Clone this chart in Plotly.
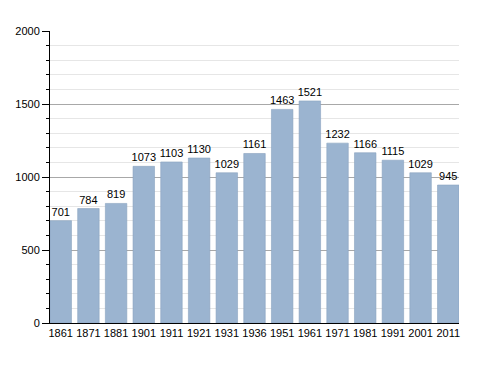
import plotly.graph_objects as go

years = ["1861", "1871", "1881", "1901", "1911", "1921", "1931", "1936",
         "1951", "1961", "1971", "1981", "1991", "2001", "2011"]
population = [701, 784, 819, 1073, 1103, 1130, 1029, 1161,
              1463, 1521, 1232, 1166, 1115, 1029, 945]

BARGAP = 0.224
half = (1 - BARGAP) / 2

fig = go.Figure(go.Bar(
    x=years, y=population,
    text=[str(v) for v in population],
    textposition="outside",
    textfont=dict(family="Liberation Sans, Arial, sans-serif", size=11, color="black"),
    constraintext="none",
    cliponaxis=False,
    marker=dict(color="#9bb4d0", line=dict(color="#8aa3bf", width=0.6)),
))

# page body has an 8px default margin, so offsets compensate for it
fig.update_layout(
    width=488, height=373,
    margin=dict(l=42, r=37, t=23, b=58, autoexpand=False),
    paper_bgcolor="white", plot_bgcolor="white",
    bargap=BARGAP,
    showlegend=False,
    uniformtext=dict(minsize=11, mode="show"),
    font=dict(family="Liberation Sans, Arial, sans-serif", size=11, color="black"),
)
fig.update_xaxes(
    type="category",
    range=[-half, len(years) - 1 + half],
    showline=True, linecolor="black", linewidth=1.2,
    ticks="", showgrid=False,
    tickfont=dict(size=11, color="black"),
)
fig.update_yaxes(
    range=[0, 2000], dtick=500, tick0=0,
    showline=True, linecolor="black", linewidth=1,
    ticks="outside", ticklen=7, tickcolor="black", tickwidth=1,
    showgrid=True, gridcolor="#a8a8a8", gridwidth=1,
    zeroline=False,
    tickfont=dict(size=11, color="black"),
    minor=dict(dtick=100, ticks="outside", ticklen=3, tickcolor="black",
               showgrid=True, gridcolor="#e6e6e6", gridwidth=1),
)

fig.write_html("out.html")
